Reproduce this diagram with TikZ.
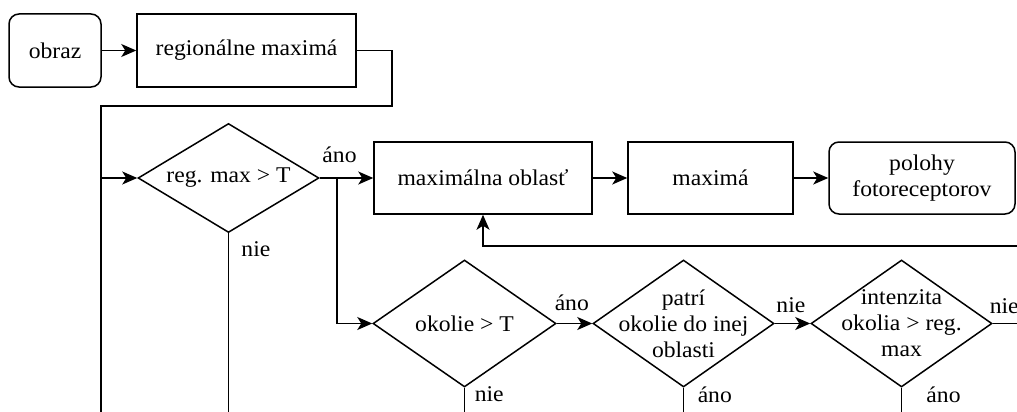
\documentclass[tikz,border=0pt]{standalone}
\usepackage{fontspec}
\setmainfont[FakeStretch=1.05]{Liberation Serif}
\usetikzlibrary{shapes,arrows.meta,positioning,calc}

\begin{document}
\begin{tikzpicture}[x=1pt, y=-1pt, line width=1.5pt,
  font=\fontsize{22.5}{26}\selectfont,
  box/.style={draw, rectangle, inner sep=0pt},
  rbox/.style={draw, rectangle, rounded corners=10pt, inner sep=0pt},
  dia/.style={draw, diamond, inner sep=0pt},
  lbl/.style={anchor=base west, inner sep=0pt},
  arr/.style={-{Stealth[length=15pt,width=13pt,inset=4pt]}}]
\useasboundingbox (0,0) rectangle (1017,412);
% boxes
\node[rbox, minimum width=92pt, minimum height=73pt] (obraz) at (55,50.5) {obraz};
\node[box, minimum width=219pt, minimum height=73pt] (regmax) at (246.5,50.5) {regionálne maximá};
\node[box, minimum width=218pt, minimum height=72pt] (maxobl) at (483,178) {maximálna oblasť};
\node[box, minimum width=165pt, minimum height=72pt] (maxima) at (710.5,178) {maximá};
\node[rbox, minimum width=186pt, minimum height=72pt, align=center] (polohy) at (922,178) {polohy\\fotoreceptorov};
% decisions
\node[dia, minimum width=181pt, minimum height=109pt] (regdia) at (228.5,178) {};
\node (regdiatxt) at (regdia) {reg. max > T};
\node[dia, minimum width=183pt, minimum height=127pt] (okdia) at (464.5,323.5) {};
\node (okdiatxt) at (okdia) {okolie > T};
\node[dia, minimum width=181pt, minimum height=127pt] (patri) at (683.5,323.5) {};
\node[align=center] (patritxt) at (patri) {patrí\\okolie do inej\\oblasti};
\node[dia, minimum width=181pt, minimum height=127pt] (intdia) at (901.5,323.5) {};
\node[align=center] (intdiatxt) at (intdia) {intenzita\\okolia > reg.\\max};
% labels
\node[lbl] (l1) at (321.7,162.7) {áno};
\node[lbl] (l2) at (240.7,256) {nie};
\node[lbl] (l3) at (554,310) {áno};
\node[lbl] (l4) at (474,401.7) {nie};
\node[lbl] (l5) at (775.7,312.7) {nie};
\node[lbl] (l6) at (697,402.7) {áno};
\node[lbl] (l7) at (989,313) {nie};
\node[lbl] (l8) at (925.7,402.7) {áno};
% free ends
\coordinate (c1) at (392,50.5);
\coordinate (c2) at (392,106);
\coordinate (c3) at (101,106);
\coordinate (c4) at (101,412);
\coordinate (c5) at (101,178);
\coordinate (c6) at (337,178);
\coordinate (c7) at (337,323.5);
\coordinate (c8) at (1017,246);
\coordinate (c9) at (228.5,412);
\coordinate (c10) at (1017,323.5);
\coordinate (c11) at (464.5,412);
\coordinate (c12) at (683.5,412);
\coordinate (c13) at (901.5,412);
% connectors
\draw[arr] (obraz) -- (regmax);
\draw (regmax) -- (c1) -- (c2) -- (c3) -- (c4);
\draw[arr] (c5) -- (regdia);
\draw[arr] (regdia) -- (maxobl);
\draw[arr] (c6) -- (c7) -- (okdia);
\draw[arr] (maxobl) -- (maxima);
\draw[arr] (maxima) -- (polohy);
\draw[arr] (c8) -| (maxobl);
\draw (regdia) -- (c9);
\draw[arr] (okdia) -- (patri);
\draw[arr] (patri) -- (intdia);
\draw (intdia) -- (c10);
\draw (okdia) -- (c11);
\draw (patri) -- (c12);
\draw (intdia) -- (c13);
\end{tikzpicture}
\end{document}
